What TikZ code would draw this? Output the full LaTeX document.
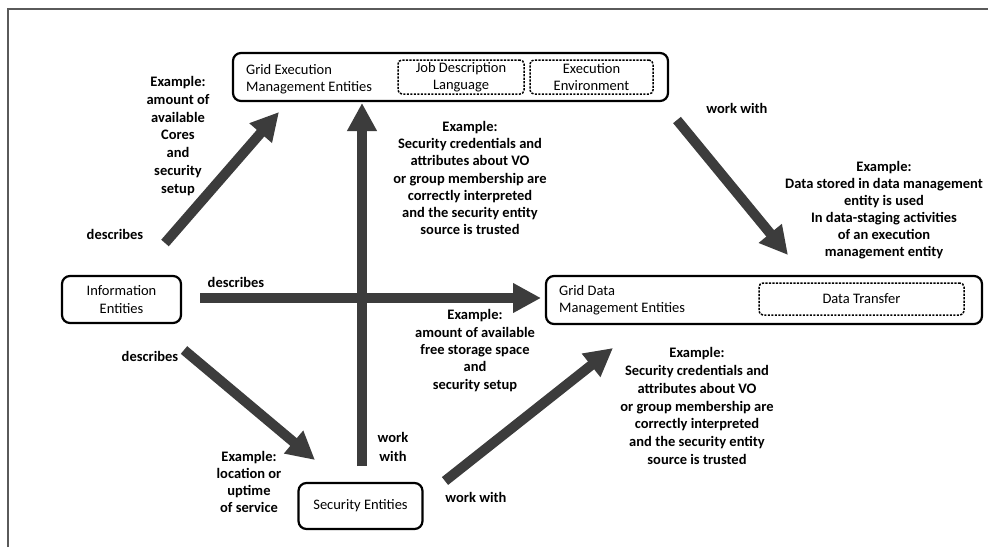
\documentclass[tikz,border=0pt]{standalone}
\usepackage{fontspec}
\setmainfont{Carlito}
\usetikzlibrary{arrows.meta}
\definecolor{arrowgray}{HTML}{3C3C3C}
\definecolor{framegray}{HTML}{5A5A5A}
\begin{document}
\begin{tikzpicture}[x=1pt,y=-1pt,
  entity/.style={draw=black, line width=2.2pt, rounded corners=8pt, inner sep=0pt},
  part/.style={draw=black, line width=1.5pt, dash pattern=on 2.2pt off 1.3pt,
    rounded corners=4pt, inner sep=0pt, align=center,
    font=\fontsize{14.5}{17.5}\selectfont},
  txt/.style={align=center, inner sep=0pt, font=\fontsize{14.5}{17.5}\selectfont},
  lbl/.style={align=center, inner sep=0pt, font=\fontsize{14.5}{17.5}\selectfont\bfseries},
  flow/.style={draw=arrowgray, line width=10pt, -{Triangle[length=28pt,width=28pt]}}
]
\useasboundingbox (0,0) rectangle (988,547);

% partial frame (top and left edges)
\draw[framegray, line width=2pt] (8,547) -- (8,9) -- (988,9);

% ---- entities ----
\node[entity, minimum width=435pt, minimum height=48pt] (exec) at (450.5,77) {};
\node[txt, align=left, anchor=west] (execname) at (246,79) {Grid Execution\\Management Entities};
\node[part, minimum width=126pt, minimum height=34pt] (jdl) at (461,77) {Job Description\\Language};
\node[part, minimum width=123pt, minimum height=34pt] (env) at (591.5,77) {Execution\\Environment};

\node[entity, minimum width=119pt, minimum height=47pt] (info) at (121.5,299.5) {};
\node[txt] (infoname) at (info.center) {Information\\Entities};

\node[entity, minimum width=436pt, minimum height=48pt] (data) at (764,300) {};
\node[txt, align=left, anchor=west] (dataname) at (559,300) {Grid Data\\Management Entities};
\node[part, minimum width=205pt, minimum height=32pt] (transfer) at (861.5,299) {Data Transfer};

\node[entity, minimum width=124pt, minimum height=46pt] (sec) at (360.5,506) {};
\node[txt] (secname) at (sec.center) {Security Entities};

% ---- arrow end points ----
\coordinate (infoA) at (165,243);  \coordinate (execA) at (279,112);
\coordinate (infoB) at (200,298);  \coordinate (dataB) at (541,298);
\coordinate (infoC) at (184,350);  \coordinate (secC)  at (315,460);
\coordinate (secD)  at (362,466);  \coordinate (execD) at (362,103);
\coordinate (secE)  at (445,481);  \coordinate (dataE) at (613,348);
\coordinate (execF) at (677,120);  \coordinate (dataF) at (788,255);

\draw[flow] (infoA) -- (execA);
\draw[flow] (infoB) -- (dataB);
\draw[flow] (infoC) -- (secC);
\draw[flow] (secD) -- (execD);
\draw[flow] (secE) -- (dataE);
\draw[flow] (execF) -- (dataF);

% ---- labels ----
\node[lbl] (d1) at (115,234) {describes};
\node[lbl] (d2) at (236,282) {describes};
\node[lbl] (d3) at (150,356) {describes};

\node[lbl, font=\fontsize{14.5}{17.8}\selectfont\bfseries] (ex1) at (178,136)
  {Example:\\amount of\\available\\Cores\\and\\security\\setup};
\node[lbl, font=\fontsize{14.5}{17.3}\selectfont\bfseries] (ex2) at (470,178)
  {Example:\\Security credentials and\\attributes about VO\\or group membership are\\correctly interpreted\\and the security entity\\source is trusted};
\node[lbl, font=\fontsize{14.5}{17.3}\selectfont\bfseries] (ex3) at (475,350.5)
  {Example:\\amount of available\\free storage space\\and\\security setup};
\node[lbl, font=\fontsize{14.5}{17.7}\selectfont\bfseries] (ex4) at (697,406)
  {Example:\\Security credentials and\\attributes about VO\\or group membership are\\correctly interpreted\\and the security entity\\source is trusted};
\node[lbl, font=\fontsize{14.5}{17}\selectfont\bfseries] (ex5) at (884,210.5)
  {Example:\\Data stored in data management\\entity is used\\In data-staging activities\\of an execution\\management entity};
\node[lbl, font=\fontsize{14.5}{17}\selectfont\bfseries] (ex6) at (249,481.5)
  {Example:\\location or\\uptime\\of service};

\node[lbl, font=\fontsize{14.5}{19}\selectfont\bfseries] (w1) at (393,447) {work\\with};
\node[lbl] (w2) at (476,497) {work with};
\node[lbl] (w3) at (737,108) {work with};
\end{tikzpicture}
\end{document}
